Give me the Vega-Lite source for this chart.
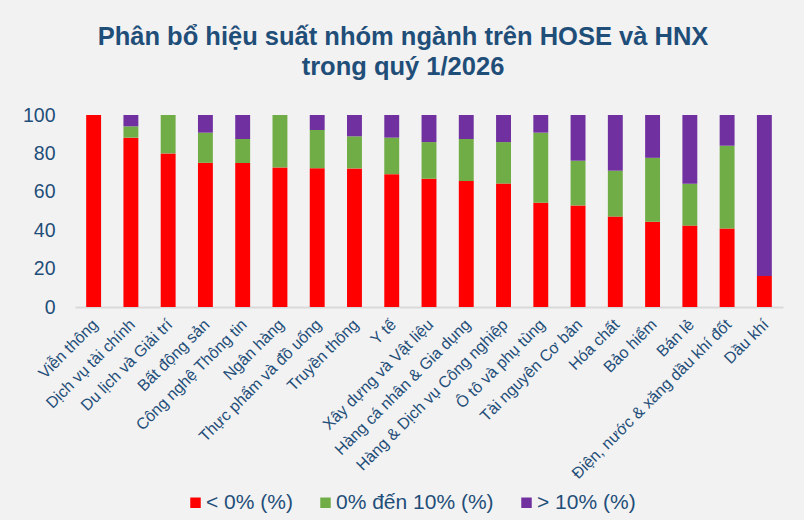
{
  "$schema": "https://vega.github.io/schema/vega-lite/v6.json",
  "width": 708,
  "height": 192,
  "autosize": {"type": "none"},
  "padding": {"left": 75, "top": 115, "right": 21, "bottom": 213},
  "background": "#f2f2f2",
  "title": {
    "text": ["Phân bổ hiệu suất nhóm ngành trên HOSE và HNX", "trong quý 1/2026"],
    "font": "Liberation Sans",
    "fontSize": 25.5,
    "fontWeight": "bold",
    "color": "#1f4e79",
    "lineHeight": 30,
    "anchor": "middle",
    "dx": -26,
    "offset": 25
  },
  "config": {
    "view": {"stroke": null},
    "font": "Liberation Sans"
  },
  "data": {
    "values": [
      {"nganh": "Viễn thông", "nhom": "< 0% (%)", "k": 1, "v": 100},
      {"nganh": "Viễn thông", "nhom": "0% đến 10% (%)", "k": 2, "v": 0},
      {"nganh": "Viễn thông", "nhom": "> 10% (%)", "k": 3, "v": 0},
      {"nganh": "Dịch vụ tài chính", "nhom": "< 0% (%)", "k": 1, "v": 88.2},
      {"nganh": "Dịch vụ tài chính", "nhom": "0% đến 10% (%)", "k": 2, "v": 5.9},
      {"nganh": "Dịch vụ tài chính", "nhom": "> 10% (%)", "k": 3, "v": 5.9},
      {"nganh": "Du lịch và Giải trí", "nhom": "< 0% (%)", "k": 1, "v": 80},
      {"nganh": "Du lịch và Giải trí", "nhom": "0% đến 10% (%)", "k": 2, "v": 20},
      {"nganh": "Du lịch và Giải trí", "nhom": "> 10% (%)", "k": 3, "v": 0},
      {"nganh": "Bất động sản", "nhom": "< 0% (%)", "k": 1, "v": 75.1},
      {"nganh": "Bất động sản", "nhom": "0% đến 10% (%)", "k": 2, "v": 15.7},
      {"nganh": "Bất động sản", "nhom": "> 10% (%)", "k": 3, "v": 9.2},
      {"nganh": "Công nghệ Thông tin", "nhom": "< 0% (%)", "k": 1, "v": 75},
      {"nganh": "Công nghệ Thông tin", "nhom": "0% đến 10% (%)", "k": 2, "v": 12.5},
      {"nganh": "Công nghệ Thông tin", "nhom": "> 10% (%)", "k": 3, "v": 12.5},
      {"nganh": "Ngân hàng", "nhom": "< 0% (%)", "k": 1, "v": 72.7},
      {"nganh": "Ngân hàng", "nhom": "0% đến 10% (%)", "k": 2, "v": 27.3},
      {"nganh": "Ngân hàng", "nhom": "> 10% (%)", "k": 3, "v": 0},
      {"nganh": "Thực phẩm và đồ uống", "nhom": "< 0% (%)", "k": 1, "v": 72.3},
      {"nganh": "Thực phẩm và đồ uống", "nhom": "0% đến 10% (%)", "k": 2, "v": 19.9},
      {"nganh": "Thực phẩm và đồ uống", "nhom": "> 10% (%)", "k": 3, "v": 7.8},
      {"nganh": "Truyền thông", "nhom": "< 0% (%)", "k": 1, "v": 72.2},
      {"nganh": "Truyền thông", "nhom": "0% đến 10% (%)", "k": 2, "v": 16.7},
      {"nganh": "Truyền thông", "nhom": "> 10% (%)", "k": 3, "v": 11.1},
      {"nganh": "Y tế", "nhom": "< 0% (%)", "k": 1, "v": 69.2},
      {"nganh": "Y tế", "nhom": "0% đến 10% (%)", "k": 2, "v": 19.0},
      {"nganh": "Y tế", "nhom": "> 10% (%)", "k": 3, "v": 11.8},
      {"nganh": "Xây dựng và Vật liệu", "nhom": "< 0% (%)", "k": 1, "v": 66.8},
      {"nganh": "Xây dựng và Vật liệu", "nhom": "0% đến 10% (%)", "k": 2, "v": 19.1},
      {"nganh": "Xây dựng và Vật liệu", "nhom": "> 10% (%)", "k": 3, "v": 14.1},
      {"nganh": "Hàng cá nhân & Gia dụng", "nhom": "< 0% (%)", "k": 1, "v": 65.6},
      {"nganh": "Hàng cá nhân & Gia dụng", "nhom": "0% đến 10% (%)", "k": 2, "v": 21.9},
      {"nganh": "Hàng cá nhân & Gia dụng", "nhom": "> 10% (%)", "k": 3, "v": 12.5},
      {"nganh": "Hàng & Dịch vụ Công nghiệp", "nhom": "< 0% (%)", "k": 1, "v": 64.3},
      {"nganh": "Hàng & Dịch vụ Công nghiệp", "nhom": "0% đến 10% (%)", "k": 2, "v": 21.6},
      {"nganh": "Hàng & Dịch vụ Công nghiệp", "nhom": "> 10% (%)", "k": 3, "v": 14.1},
      {"nganh": "Ô tô và phụ tùng", "nhom": "< 0% (%)", "k": 1, "v": 54.3},
      {"nganh": "Ô tô và phụ tùng", "nhom": "0% đến 10% (%)", "k": 2, "v": 36.5},
      {"nganh": "Ô tô và phụ tùng", "nhom": "> 10% (%)", "k": 3, "v": 9.2},
      {"nganh": "Tài nguyên Cơ bản", "nhom": "< 0% (%)", "k": 1, "v": 52.9},
      {"nganh": "Tài nguyên Cơ bản", "nhom": "0% đến 10% (%)", "k": 2, "v": 23.3},
      {"nganh": "Tài nguyên Cơ bản", "nhom": "> 10% (%)", "k": 3, "v": 23.8},
      {"nganh": "Hóa chất", "nhom": "< 0% (%)", "k": 1, "v": 47.1},
      {"nganh": "Hóa chất", "nhom": "0% đến 10% (%)", "k": 2, "v": 23.9},
      {"nganh": "Hóa chất", "nhom": "> 10% (%)", "k": 3, "v": 29.0},
      {"nganh": "Bảo hiểm", "nhom": "< 0% (%)", "k": 1, "v": 44.4},
      {"nganh": "Bảo hiểm", "nhom": "0% đến 10% (%)", "k": 2, "v": 33.3},
      {"nganh": "Bảo hiểm", "nhom": "> 10% (%)", "k": 3, "v": 22.3},
      {"nganh": "Bán lẻ", "nhom": "< 0% (%)", "k": 1, "v": 42.4},
      {"nganh": "Bán lẻ", "nhom": "0% đến 10% (%)", "k": 2, "v": 21.8},
      {"nganh": "Bán lẻ", "nhom": "> 10% (%)", "k": 3, "v": 35.8},
      {"nganh": "Điện, nước & xăng dầu khí đốt", "nhom": "< 0% (%)", "k": 1, "v": 40.9},
      {"nganh": "Điện, nước & xăng dầu khí đốt", "nhom": "0% đến 10% (%)", "k": 2, "v": 43.1},
      {"nganh": "Điện, nước & xăng dầu khí đốt", "nhom": "> 10% (%)", "k": 3, "v": 16.0},
      {"nganh": "Dầu khí", "nhom": "< 0% (%)", "k": 1, "v": 16.2},
      {"nganh": "Dầu khí", "nhom": "0% đến 10% (%)", "k": 2, "v": 0},
      {"nganh": "Dầu khí", "nhom": "> 10% (%)", "k": 3, "v": 83.8}
    ]
  },
  "mark": {"type": "bar"},
  "encoding": {
    "x": {
      "field": "nganh",
      "type": "nominal",
      "sort": null,
      "scale": {"paddingInner": 0.6, "paddingOuter": 0.3},
      "axis": {
        "title": null,
        "labelAngle": -45,
        "labelAlign": "right",
        "labelBaseline": "top",
        "labelFontSize": 16,
        "labelColor": "#1f4e79",
        "labelPadding": 9,
        "labelOffset": -4,
        "labelLimit": 400,
        "ticks": false,
        "domainColor": "#d9d9d9",
        "domainWidth": 2,
        "grid": false
      }
    },
    "y": {
      "field": "v",
      "type": "quantitative",
      "stack": "zero",
      "scale": {"domain": [0, 100], "nice": false},
      "axis": {
        "title": null,
        "values": [0, 20, 40, 60, 80, 100],
        "labelFontSize": 19.5,
        "labelColor": "#1f4e79",
        "labelPadding": 20,
        "ticks": false,
        "domain": false,
        "grid": false
      }
    },
    "color": {
      "field": "nhom",
      "type": "nominal",
      "sort": ["< 0% (%)", "0% đến 10% (%)", "> 10% (%)"],
      "scale": {
        "domain": ["< 0% (%)", "0% đến 10% (%)", "> 10% (%)"],
        "range": ["#ff0000", "#70ad47", "#7030a0"]
      },
      "legend": {
        "title": null,
        "orient": "none",
        "direction": "horizontal",
        "legendX": 110,
        "legendY": 377,
        "symbolType": "square",
        "symbolSize": 110,
        "symbolStrokeWidth": 0,
        "labelFontSize": 21,
        "labelColor": "#1f4e79",
        "labelOffset": 0,
        "columnPadding": 22
      }
    },
    "order": {"field": "k", "type": "quantitative"}
  }
}
